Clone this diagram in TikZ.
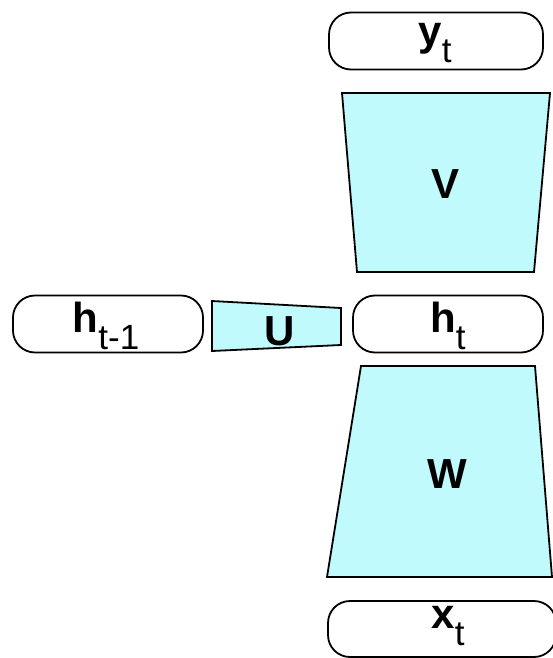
\documentclass[tikz,border=0pt]{standalone}
\usepackage{fontspec}
\setmainfont{Liberation Sans}
\definecolor{cyanfill}{RGB}{192,250,252}
\begin{document}
\begin{tikzpicture}[x=1pt,y=-1pt,
  pill/.style={draw=black, line width=1.8pt, rounded corners=22pt, fill=white, inner sep=0pt},
  wt/.style={draw=black, line width=1.8pt, fill=cyanfill, line join=miter},
  lbl/.style={font=\fontsize{42}{42}\selectfont\bfseries, inner sep=0pt, anchor=base}]
\newcommand{\subt}[1]{\raisebox{-17pt}{\fontsize{35}{35}\selectfont\mdseries #1}}
\useasboundingbox (0,0) rectangle (553,658);
% boxes
\node[pill, minimum width=214pt, minimum height=57pt] (yt) at (436,41) {};
\node[lbl] (ytl) at (435,46) {y\subt{t}};
\node[pill, minimum width=190pt, minimum height=57pt] (hprev) at (108,324) {};
\node[lbl] (hprevl) at (106,332) {h\subt{t-1}};
\node[pill, minimum width=190pt, minimum height=57pt] (ht) at (448,324) {};
\node[lbl] (htl) at (448,332) {h\subt{t}};
\node[pill, minimum width=228pt, minimum height=56pt] (xt) at (442,629) {};
\node[lbl] (xtl) at (448,628) {x\subt{t}};
% weight trapezoids
\draw[wt] (342,93) -- (550,93) -- (534,272) -- (357,272) -- cycle;
\node[lbl] (V) at (445,198) {V};
\draw[wt] (212,301) -- (341,308) -- (341,345) -- (212,351) -- cycle;
\node[lbl] (U) at (280,345) {U};
\draw[wt] (361,366) -- (535,366) -- (552,577) -- (327,577) -- cycle;
\node[lbl] (W) at (447,488) {W};
\end{tikzpicture}
\end{document}
